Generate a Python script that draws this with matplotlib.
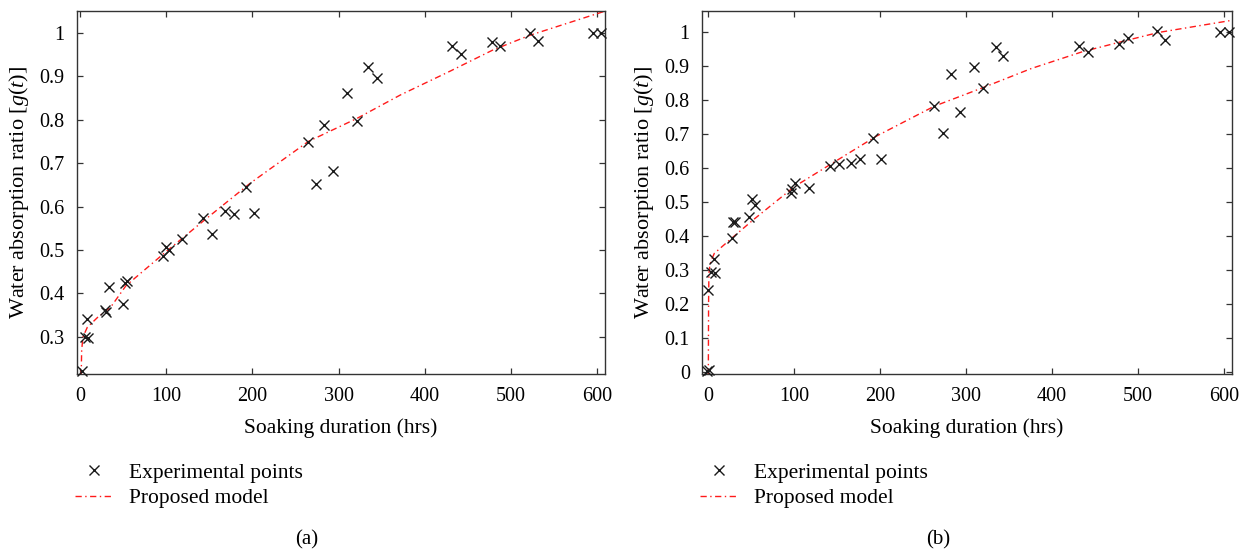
import numpy as np
import matplotlib.pyplot as plt
from matplotlib.ticker import FormatStrFormatter, MultipleLocator

plt.rcParams['font.family'] = ['Liberation Serif', 'DejaVu Serif']
plt.rcParams['mathtext.fontset'] = 'custom'
plt.rcParams['mathtext.rm'] = 'Liberation Serif'
plt.rcParams['mathtext.it'] = 'Liberation Serif:italic'

# (a) experimental points
t_a = [1.5, 5.8, 8.9, 7.7, 29, 30.2, 32.9, 49.6, 51.5, 54.6, 96, 99.1, 103,
       118.1, 142.9, 153, 168.1, 178.5, 192.5, 201.8, 264.9, 273.8, 283.1,
       294, 310, 321.5, 334.2, 344.7, 431.8, 441.9, 478.7, 488, 522.9, 531.8,
       595.7, 605.4]
g_a = [0.222, 0.299, 0.298, 0.342, 0.362, 0.357, 0.414, 0.376, 0.424, 0.429,
       0.487, 0.506, 0.499, 0.525, 0.573, 0.536, 0.589, 0.582, 0.645, 0.586,
       0.748, 0.653, 0.787, 0.681, 0.862, 0.798, 0.922, 0.897, 0.969, 0.951,
       0.978, 0.969, 0.999, 0.982, 1.0, 1.0]

# (a) model curve
tm_a = [1.0, 1.2, 1.5, 3, 8, 20, 35, 53, 100, 143, 197.5, 265, 321.5, 372,
        430, 479, 522, 610]
gm_a = [0.210, 0.24, 0.27, 0.300, 0.322, 0.345, 0.368, 0.418, 0.497, 0.567,
        0.654, 0.750, 0.803, 0.857, 0.912, 0.960, 0.994, 1.05]

# (b) experimental points
t_b = [-1, 0.5, 0, 6.1, 3.3, 7.2, 27.4, 28.6, 30.6, 46.9, 50.8, 53.9, 95.8,
       97.4, 100.5, 117.2, 141.3, 151.8, 165.8, 176.3, 191.8, 200.8, 262.6,
       273.4, 282.4, 293.3, 309.6, 320, 334.5, 343.4, 431.6, 441.3, 478.3,
       487.9, 522.2, 531.1, 595.9, 605.6]
g_b = [0.002, 0.004, 0.240, 0.331, 0.294, 0.289, 0.392, 0.441, 0.441, 0.454,
       0.507, 0.489, 0.527, 0.537, 0.556, 0.541, 0.605, 0.611, 0.613, 0.625,
       0.686, 0.625, 0.781, 0.703, 0.875, 0.763, 0.895, 0.836, 0.956, 0.928,
       0.959, 0.941, 0.963, 0.983, 1.002, 0.976, 1.0, 1.0]

# (b) model curve
tm_b = [0, 0.3, 0.6, 1, 3, 7, 27, 52, 100, 141, 195, 263, 320, 376, 435, 481,
        524, 610]
gm_b = [-0.01, 0.2, 0.27, 0.30, 0.325, 0.348, 0.392, 0.446, 0.544, 0.608,
        0.692, 0.781, 0.836, 0.892, 0.941, 0.971, 0.998, 1.034]

panels = [
    dict(pos=[0.0618, 0.3219, 0.4244, 0.6581], t=t_a, g=g_a, tm=tm_a, gm=gm_a,
         xlim=(-4, 610), ylim=(0.214, 1.05), ystep=0.1, cap='(a)', capx=0.2466),
    dict(pos=[0.5641, 0.3219, 0.4252, 0.6581], t=t_b, g=g_b, tm=tm_b, gm=gm_b,
         xlim=(-7, 609), ylim=(-0.008, 1.061), ystep=0.1, cap='(b)', capx=0.7534),
]

fig = plt.figure(figsize=(12.45, 5.52), dpi=100)
spine_col = '#333333'

for p in panels:
    ax = fig.add_axes(p['pos'])
    ax.plot(p['t'], p['g'], linestyle='none', marker='x', color='#1a1a1a',
            markersize=7, markeredgewidth=1.0, label='Experimental points',
            clip_on=False, zorder=3)
    ax.plot(p['tm'], p['gm'], color='#ff1a1a', lw=1.0,
            linestyle=(0, (4.5, 2.5, 1, 2.5)), label='Proposed model')
    ax.set_xlim(*p['xlim'])
    ax.set_ylim(*p['ylim'])
    ax.xaxis.set_major_locator(MultipleLocator(100))
    ax.yaxis.set_major_locator(MultipleLocator(p['ystep']))
    ax.yaxis.set_major_formatter(FormatStrFormatter('%g'))
    ax.tick_params(direction='in', top=True, right=True, length=4,
                   width=0.9, color=spine_col, labelsize=14.5, pad=9)
    for s in ax.spines.values():
        s.set_color(spine_col)
        s.set_linewidth(1.0)
    ax.set_xlabel('Soaking duration (hrs)', fontsize=15.5, labelpad=9)
    ax.set_ylabel(r'Water absorption ratio [$g(t)$]', fontsize=16, labelpad=6)
    ax.legend(loc='upper left', bbox_to_anchor=(-0.02, -0.22),
              frameon=False, fontsize=15.5, handlelength=1.75,
              handletextpad=0.75, labelspacing=0.25, borderaxespad=0)
    fig.text(p['capx'], 0.022, p['cap'], ha='center', va='center', fontsize=15)

fig.savefig('out.png', dpi=100)
